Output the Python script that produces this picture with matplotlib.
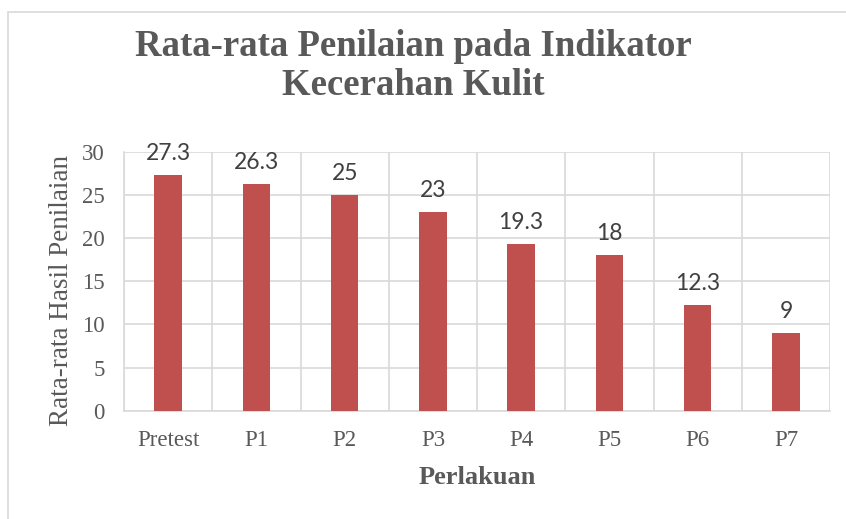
import matplotlib
matplotlib.use("Agg")
import matplotlib.pyplot as plt
from matplotlib.patches import Rectangle

categories = ["Pretest", "P1", "P2", "P3", "P4", "P5", "P6", "P7"]
values = [27.3, 26.3, 25, 23, 19.3, 18, 12.3, 9]
labels = ["27.3", "26.3", "25", "23", "19.3", "18", "12.3", "9"]
yticks = [0, 5, 10, 15, 20, 25, 30]

W, H = 846, 519
fig = plt.figure(figsize=(W / 100, H / 100), dpi=100)
fig.patch.set_facecolor("white")

# chart border
fig.add_artist(Rectangle((8 / W, -0.05), 1.2, 1 - 12 / H + 0.05,
                         transform=fig.transFigure, fill=False,
                         edgecolor="#d9d9d9", linewidth=1.2))

ax = fig.add_axes([124 / W, 1 - 410.7 / H, (830 - 124) / W, (410.7 - 152) / H])
x = list(range(len(categories)))
ax.bar(x, values, width=0.31, color="#c0504d", zorder=3)

ax.set_xlim(-0.5, len(categories) - 0.5)
ax.set_ylim(0, 30)
ax.set_yticks(yticks)
ax.set_yticklabels([str(t) for t in yticks], fontfamily="Liberation Serif",
                   fontsize=16.5, color="#595959")
ax.set_xticks(x)
ax.set_xticklabels(categories, fontfamily="Liberation Serif", fontsize=16.5,
                   color="#595959")
ax.tick_params(axis="y", length=0, pad=14)
ax.tick_params(axis="x", length=0, pad=14)

# vertical gridlines at category boundaries
ax.set_xticks([i - 0.5 for i in range(len(categories) + 1)], minor=True)
ax.tick_params(axis="x", which="minor", length=0)
ax.grid(True, which="minor", axis="x", color="#d9d9d9", linewidth=1.2, zorder=0)
ax.grid(True, which="major", axis="y", color="#d9d9d9", linewidth=1.2, zorder=0)
for s in ["top", "right"]:
    ax.spines[s].set_visible(False)
for s in ["left", "bottom"]:
    ax.spines[s].set_color("#d9d9d9")
    ax.spines[s].set_linewidth(1.2)

for xi, v, lab in zip(x, values, labels):
    ax.annotate(lab, (xi, v), xytext=(0, 8), textcoords="offset points",
                ha="center", va="bottom", fontsize=16.5, fontfamily="Lato",
                color="#404040")

fig.text(477 / W, 1 - 477 / H, "Perlakuan", ha="center", va="center",
         fontfamily="Liberation Serif", fontsize=19, fontweight="bold",
         color="#595959")
fig.text(62 / W, 1 - 291 / H, "Rata-rata Hasil Penilaian", ha="center",
         va="center", rotation=90, fontfamily="Liberation Serif", fontsize=19.5,
         color="#595959")

fig.text(413 / W, 1 - 66 / H, "Rata-rata Penilaian pada Indikator\nKecerahan Kulit",
         ha="center", va="center", fontfamily="Liberation Serif", fontsize=26.5,
         fontweight="bold", color="#595959", linespacing=1.15)

fig.savefig("out.png", dpi=100)
